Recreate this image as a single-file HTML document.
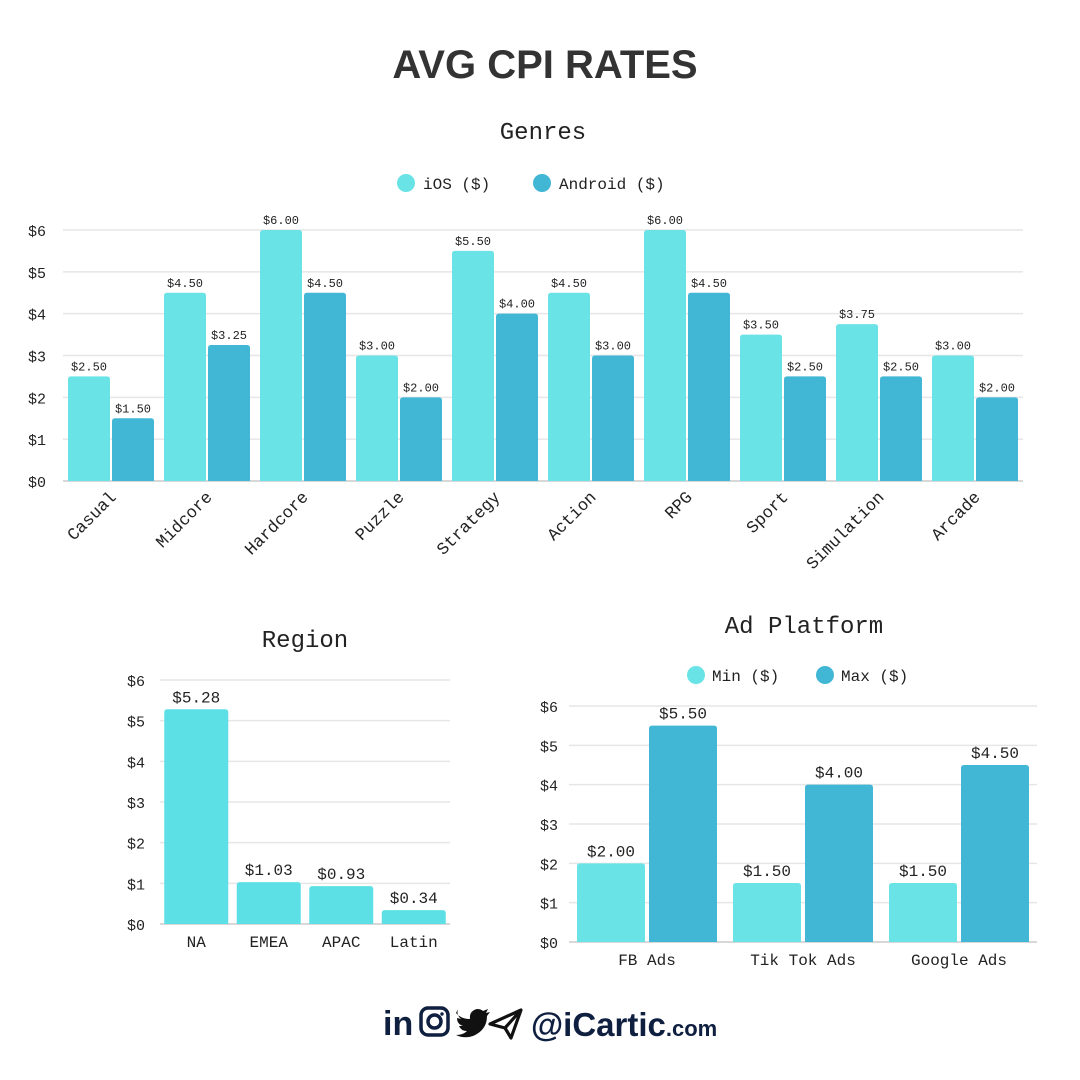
<!DOCTYPE html>
<html><head><meta charset="utf-8">
<style>
html,body{margin:0;padding:0;background:#fff;width:1080px;height:1080px;overflow:hidden}
svg{display:block}
.m{font-family:"Liberation Mono","DejaVu Sans Mono",monospace;fill:#222}
</style></head>
<body>
<svg id="c" width="1080" height="1080" viewBox="0 0 1080 1080" xmlns="http://www.w3.org/2000/svg">
<text x="545" y="78" text-anchor="middle" font-family="Liberation Sans,sans-serif" font-weight="bold" font-size="40" fill="#333">AVG CPI RATES</text>
<text class="m" x="543" y="139" text-anchor="middle" font-size="24">Genres</text>
<g>
<circle cx="406" cy="183" r="9" fill="#6ae3e6"/>
<text class="m" x="423" y="189" font-size="16">iOS ($)</text>
<circle cx="542" cy="183" r="9" fill="#42b7d5"/>
<text class="m" x="559" y="189" font-size="16">Android ($)</text>
</g>
<text class="m" x="305" y="647" text-anchor="middle" font-size="24">Region</text>
<text class="m" x="804" y="633" text-anchor="middle" font-size="24">Ad Platform</text>
<g>
<circle cx="696" cy="675" r="9" fill="#6ae3e6"/>
<text class="m" x="712" y="681" font-size="16">Min ($)</text>
<circle cx="825" cy="675" r="9" fill="#42b7d5"/>
<text class="m" x="841" y="681" font-size="16">Max ($)</text>
</g>
<g id="genres"></g>
<g id="region"></g>
<g id="ads"></g>
<g>
<text x="383" y="1035" font-family="Liberation Sans,sans-serif" font-weight="bold" font-size="34" fill="#0f1f40">in</text>
<rect x="421" y="1008" width="27" height="27" rx="7" fill="none" stroke="#0f1f40" stroke-width="3.5"/>
<circle cx="434.5" cy="1021.5" r="6.5" fill="none" stroke="#0f1f40" stroke-width="3.5"/>
<circle cx="442" cy="1014" r="1.7" fill="#0f1f40"/>
<path d="M456 1013 q5 6 14 6 q-1-8 7-10 q4 0 6 2 l5-2 -2 4 4-1 -3 4 q0 14-14 20 q-9 3-17-1 q7 0 11-4 q-6 0-8-5 h4 q-6-2-6-8 l4 1 q-5-4-3-10z" fill="#111"/>
<path d="M490 1024 l31-14 -10 28 -6-10 z M505 1028 l16-18" fill="none" stroke="#111" stroke-width="3.2" stroke-linejoin="round"/>
<text x="531" y="1036" font-family="Liberation Sans,sans-serif" font-weight="bold" font-size="33" fill="#0f1f40">@iCartic<tspan font-size="22">.com</tspan></text>
</g>
</svg>
<script>
const genreCats=["Casual","Midcore","Hardcore","Puzzle","Strategy","Action","RPG","Sport","Simulation","Arcade"];
const iosVals=[2.5,4.5,6,3,5.5,4.5,6,3.5,3.75,3];
const androidVals=[1.5,3.25,4.5,2,4,3,4.5,2.5,2.5,2];
const genreTicks=[0,1,2,3,4,5,6];
const regionCats=["NA","EMEA","APAC","Latin"];
const regionVals=[5.28,1.03,0.93,0.34];
const adCats=["FB Ads","Tik Tok Ads","Google Ads"];
const adMinVals=[2,1.5,1.5];
const adMaxVals=[5.5,4,4.5];
const NS="http://www.w3.org/2000/svg";
function mk(p,t,a){const e=document.createElementNS(NS,t);for(const k in a)e.setAttribute(k,a[k]);p.appendChild(e);return e;}
function fmt(v){return "$"+v.toFixed(2);}
function topRect(p,x,y,w,h,fill){
  const r=Math.min(3,h/2);
  return mk(p,"path",{d:`M${x} ${y+h} V${y+r} Q${x} ${y} ${x+r} ${y} H${x+w-r} Q${x+w} ${y} ${x+w} ${y+r} V${y+h} Z`,fill:fill});
}
function chart(o){
  const g=document.getElementById(o.id);
  const ys=v=>o.y0-(o.y0-o.y6)*v/6;
  genreTicks.forEach(t=>{
    const l=mk(g,"line",{x1:o.x0,x2:o.x1,y1:ys(t),y2:ys(t),stroke:t===0?"#ccc":"#e6e6e6","stroke-width":1.5});
    
    
    const tx=mk(g,"text",{x:o.tx,y:ys(t)+6,"text-anchor":"end","font-size":o.tfs,class:"m"});
    tx.textContent="$"+t;
    
    
  });
  const step=(o.x1-o.x0)/o.cats.length;
  o.cats.forEach((c,i)=>{
    const gx=o.x0+i*step;
    const n=o.series.length;
    const total=n*o.bw+(n-1)*o.gap;
    const sx=gx+(step-total)/2;
    o.series.forEach((s,j)=>{
      const v=s.vals[i];const x=sx+j*(o.bw+o.gap);
      const b=topRect(g,x,ys(v),o.bw,o.y0-ys(v),s.color);
      
      
      const t=mk(g,"text",{x:x+o.bw/2,y:ys(v)-o.lo,"text-anchor":"middle","font-size":o.vfs,class:"m"});
      t.textContent=fmt(v);
      
      
    });
    const cx=gx+step/2;
    let t;
    if(o.rot){t=mk(g,"text",{x:cx+6,y:o.y0+17,"text-anchor":"end","font-size":o.cfs,class:"m",transform:`rotate(-45 ${cx+6} ${o.y0+17})`});}
    else{t=mk(g,"text",{x:cx,y:o.y0+23,"text-anchor":"middle","font-size":o.cfs,class:"m"});}
    t.textContent=c;
    
    
  });
}
chart({id:"genres",cats:genreCats,series:[{name:"ios",vals:iosVals,color:"#6ae3e6"},{name:"android",vals:androidVals,color:"#42b7d5"}],x0:63,x1:1023,y0:481,y6:230,bw:42,gap:2,tx:46,tfs:15,vfs:12,cfs:17,lo:6,rot:true});
chart({id:"region",cats:regionCats,series:[{name:"region",vals:regionVals,color:"#5ce0e5"}],x0:160,x1:450,y0:924,y6:680,bw:64,gap:0,tx:145,tfs:15,vfs:16,cfs:16,lo:7,rot:false});
chart({id:"ads",cats:adCats,series:[{name:"min",vals:adMinVals,color:"#6ae3e6"},{name:"max",vals:adMaxVals,color:"#42b7d5"}],x0:569,x1:1037,y0:942,y6:706,bw:68,gap:4,tx:558,tfs:15,vfs:16,cfs:16,lo:7,rot:false});
</script>
</body></html>
